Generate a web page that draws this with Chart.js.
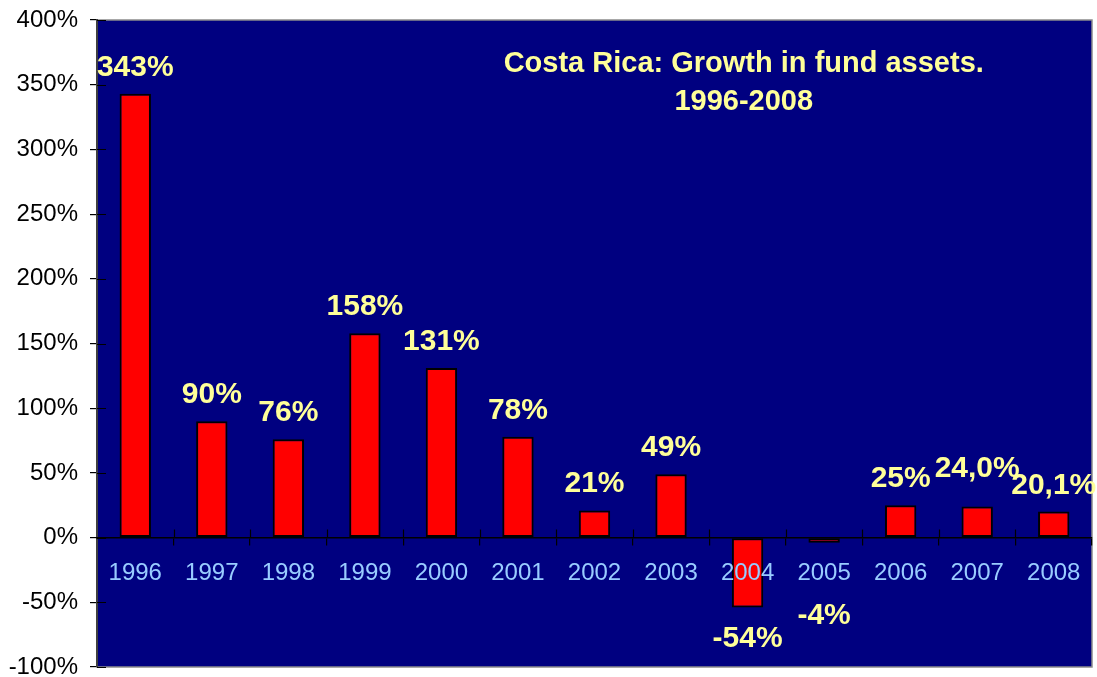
<!DOCTYPE html>
<html>
<head>
<meta charset="utf-8">
<script src="https://cdn.jsdelivr.net/npm/chart.js@4.4.1/dist/chart.umd.min.js"></script>
<style>
  html, body { margin: 0; padding: 0; background: #ffffff; }
  #wrap { width: 1097px; height: 677px; }
</style>
</head>
<body>
<div id="wrap"><canvas id="growthChart" width="1097" height="677"></canvas></div>
<script>
const years = ['1996', '1997', '1998', '1999', '2000', '2001', '2002', '2003', '2004', '2005', '2006', '2007', '2008'];
const growth = [343, 90, 76, 158, 131, 78, 21, 49, -54, -4, 25, 24.0, 20.1];
const growthLabels = ['343%', '90%', '76%', '158%', '131%', '78%', '21%', '49%', '-54%', '-4%', '25%', '24,0%', '20,1%'];
const yTicks = [-100, -50, 0, 50, 100, 150, 200, 250, 300, 350, 400];
const titleLines = ['Costa Rica: Growth in fund assets.', '1996-2008'];

const NAVY = '#000080';
const LABEL_YELLOW = '#FFFF99';
const BOLD_FONT = 'bold 30px Arial, "Liberation Sans", sans-serif';

// navy plot background with grey frame
const plotBackground = {
    id: 'plotBackground',
    beforeDraw(chart) {
        const { ctx, chartArea: a } = chart;
        ctx.save();
        ctx.fillStyle = NAVY;
        ctx.fillRect(a.left, a.top, a.right - a.left, a.bottom - a.top);
        ctx.strokeStyle = '#8c8c8c';
        ctx.lineWidth = 1.5;
        ctx.strokeRect(a.left, a.top, a.right - a.left, a.bottom - a.top);
        ctx.restore();
    }
};

// tick marks that also reach into the plot, like the old office charts
const crossTicks = {
    id: 'crossTicks',
    afterDraw(chart) {
        const { ctx, chartArea: a, scales: { x, y } } = chart;
        ctx.save();
        ctx.strokeStyle = '#000000';
        ctx.lineWidth = 1.2;
        ctx.beginPath();
        yTicks.forEach(v => {
            const py = Math.round(y.getPixelForValue(v)) + 0.5;
            ctx.moveTo(a.left, py);
            ctx.lineTo(a.left + 9, py);
        });
        const zero = y.getPixelForValue(0);
        const half = (x.getPixelForValue(1) - x.getPixelForValue(0)) / 2;
        for (let i = 1; i < years.length; i++) {
            const px = Math.round(x.getPixelForValue(i) - half) + 0.5;
            ctx.moveTo(px, zero - 8);
            ctx.lineTo(px, zero);
        }
        ctx.stroke();
        ctx.restore();
    }
};

// value labels over / under each bar plus the title block
const valueLabels = {
    id: 'valueLabels',
    afterDraw(chart, args, opts) {
        const { ctx, chartArea: a } = chart;
        const meta = chart.getDatasetMeta(0);
        ctx.save();
        ctx.font = BOLD_FONT;
        ctx.fillStyle = LABEL_YELLOW;
        ctx.textAlign = 'center';
        ctx.textBaseline = 'alphabetic';
        meta.data.forEach((bar, i) => {
            const v = growth[i];
            let ly = v >= 0 ? bar.y - 18 : bar.y + 40;
            ly += opts.nudge[years[i]] || 0;
            ctx.fillText(growthLabels[i], bar.x, ly);
        });
        ctx.font = 'bold 29px Arial, "Liberation Sans", sans-serif';
        const cx = a.left + (a.right - a.left) * 0.65;
        titleLines.forEach((t, i) => {
            ctx.fillText(t, cx, a.top + 52 + i * 38);
        });
        ctx.restore();
    }
};

new Chart(document.getElementById('growthChart'), {
    type: 'bar',
    data: {
        labels: years,
        datasets: [{
            data: growth,
            backgroundColor: '#FF0000',
            borderColor: '#000000',
            borderWidth: 2,
            borderSkipped: false,
            categoryPercentage: 1.0,
            barPercentage: 0.41
        }]
    },
    options: {
        responsive: false,
        animation: false,
        layout: { padding: { left: 0, top: 20, right: 5, bottom: 10 } },
        plugins: {
            legend: { display: false },
            tooltip: { enabled: false },
            valueLabels: { nudge: { '2005': 41, '2007': -12 } }
        },
        scales: {
            x: {
                position: { y: 0 },
                grid: {
                    offset: true,
                    drawOnChartArea: false,
                    drawTicks: true,
                    tickLength: 7,
                    color: '#000000',
                    lineWidth: 1.2
                },
                border: { color: '#000000', width: 1.5, z: 1 },
                ticks: {
                    z: 1,
                    color: '#99CCFF',
                    font: { family: 'Arial, "Liberation Sans", sans-serif', size: 24 },
                    padding: 14,
                    maxRotation: 0,
                    autoSkip: false
                }
            },
            y: {
                min: -100,
                max: 400,
                afterFit(scale) {
                    scale.width = 97;
                    scale.paddingTop = 0;
                    scale.paddingBottom = 0;
                },
                afterBuildTicks(scale) { scale.ticks = yTicks.map(v => ({ value: v })); },
                grid: {
                    drawOnChartArea: false,
                    drawTicks: true,
                    tickLength: 7,
                    color: '#000000',
                    lineWidth: 1.2
                },
                border: { color: '#404040', width: 2 },
                ticks: {
                    color: '#000000',
                    font: { family: 'Arial, "Liberation Sans", sans-serif', size: 24 },
                    padding: 12,
                    callback: v => v + '%'
                }
            }
        }
    },
    plugins: [plotBackground, crossTicks, valueLabels]
});
</script>
</body>
</html>
